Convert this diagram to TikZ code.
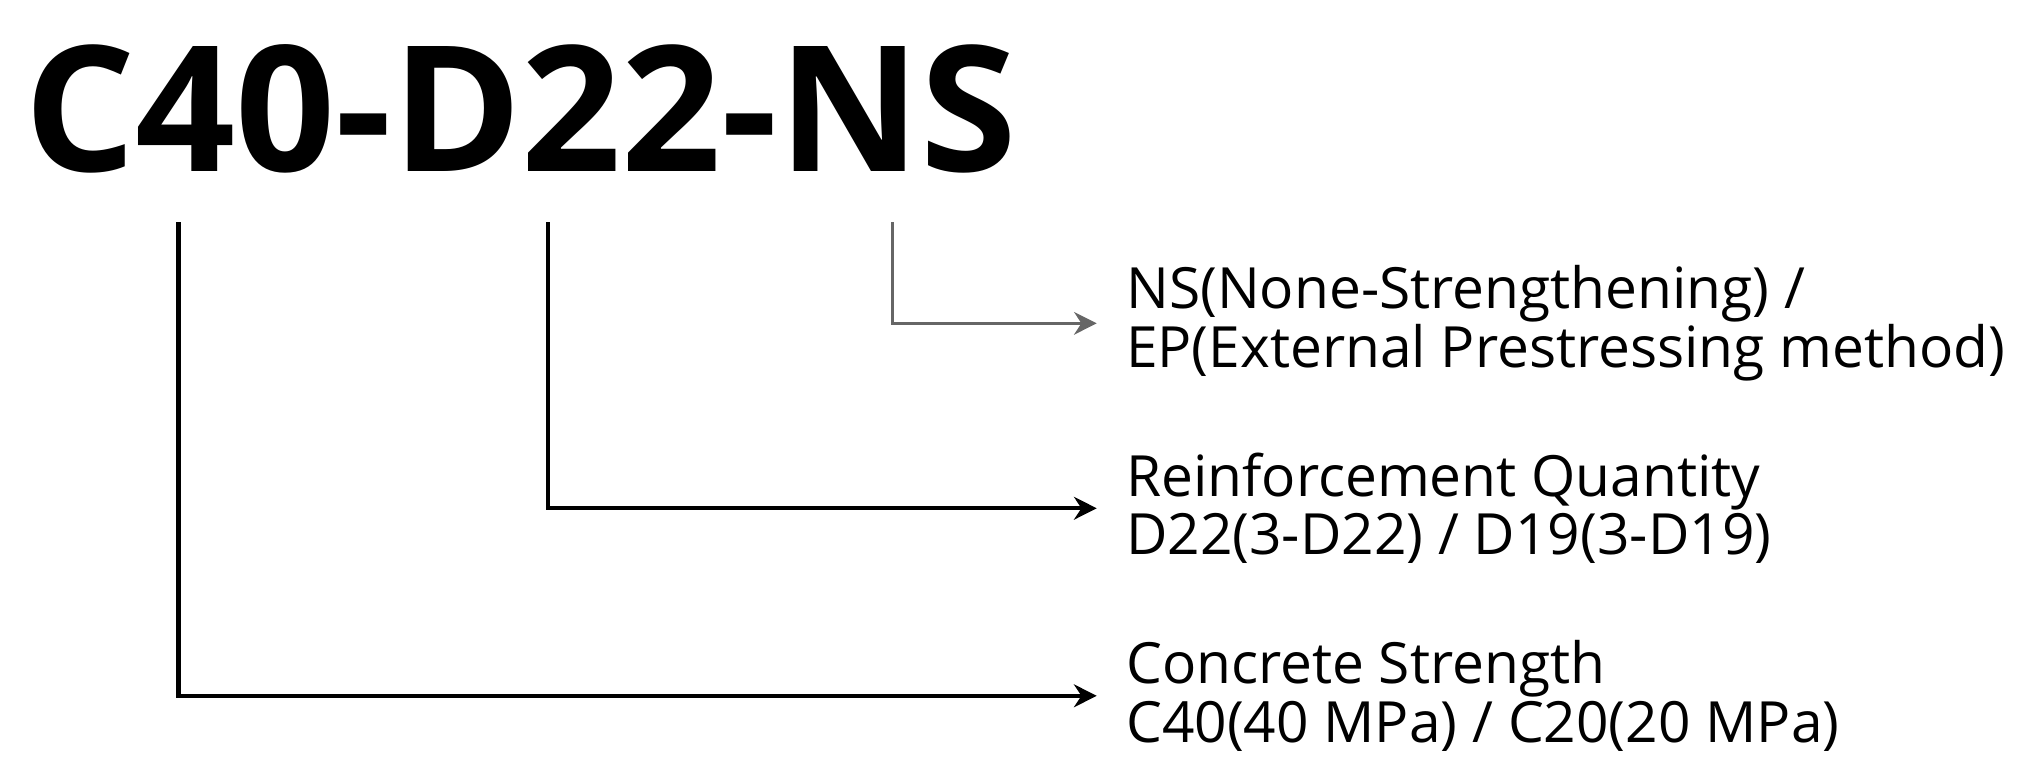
\documentclass[tikz,border=0pt]{standalone}
\usepackage{fontspec}
\setmainfont{Open Sans}
\usetikzlibrary{arrows.meta}
\begin{document}
\begin{tikzpicture}[x=0.01cm,y=-0.01cm,
  lab/.style={anchor=west,align=left,font=\fontsize{12.5}{12.8}\selectfont,inner sep=0pt},
  conn/.style={line width=0.9pt,-{Stealth[length=5pt,width=5pt]}}]
\useasboundingbox (0,0) rectangle (1568,604);
\node[anchor=west,inner sep=0pt,font=\fontsize{38.5}{40}\bfseries\selectfont] (title) at (18,84) {C40-D22-NS};
\coordinate (c) at (138,172);
\coordinate (d) at (424,172);
\coordinate (n) at (690,172);
\node[lab] (ns) at (870,250) {NS(None-Strengthening) /\\EP(External Prestressing method)};
\node[lab] (rq) at (870,393) {Reinforcement Quantity\\D22(3-D22) / D19(3-D19)};
\node[lab] (cs) at (870,538) {Concrete Strength\\C40(40 MPa) / C20(20 MPa)};
\draw[conn,draw=black!60,line width=0.6pt] (n) |- ([xshift=-0.22cm]ns.west);
\draw[conn] (d) |- ([xshift=-0.22cm]rq.west);
\draw[conn] (c) |- ([xshift=-0.22cm]cs.west);
\end{tikzpicture}
\end{document}
